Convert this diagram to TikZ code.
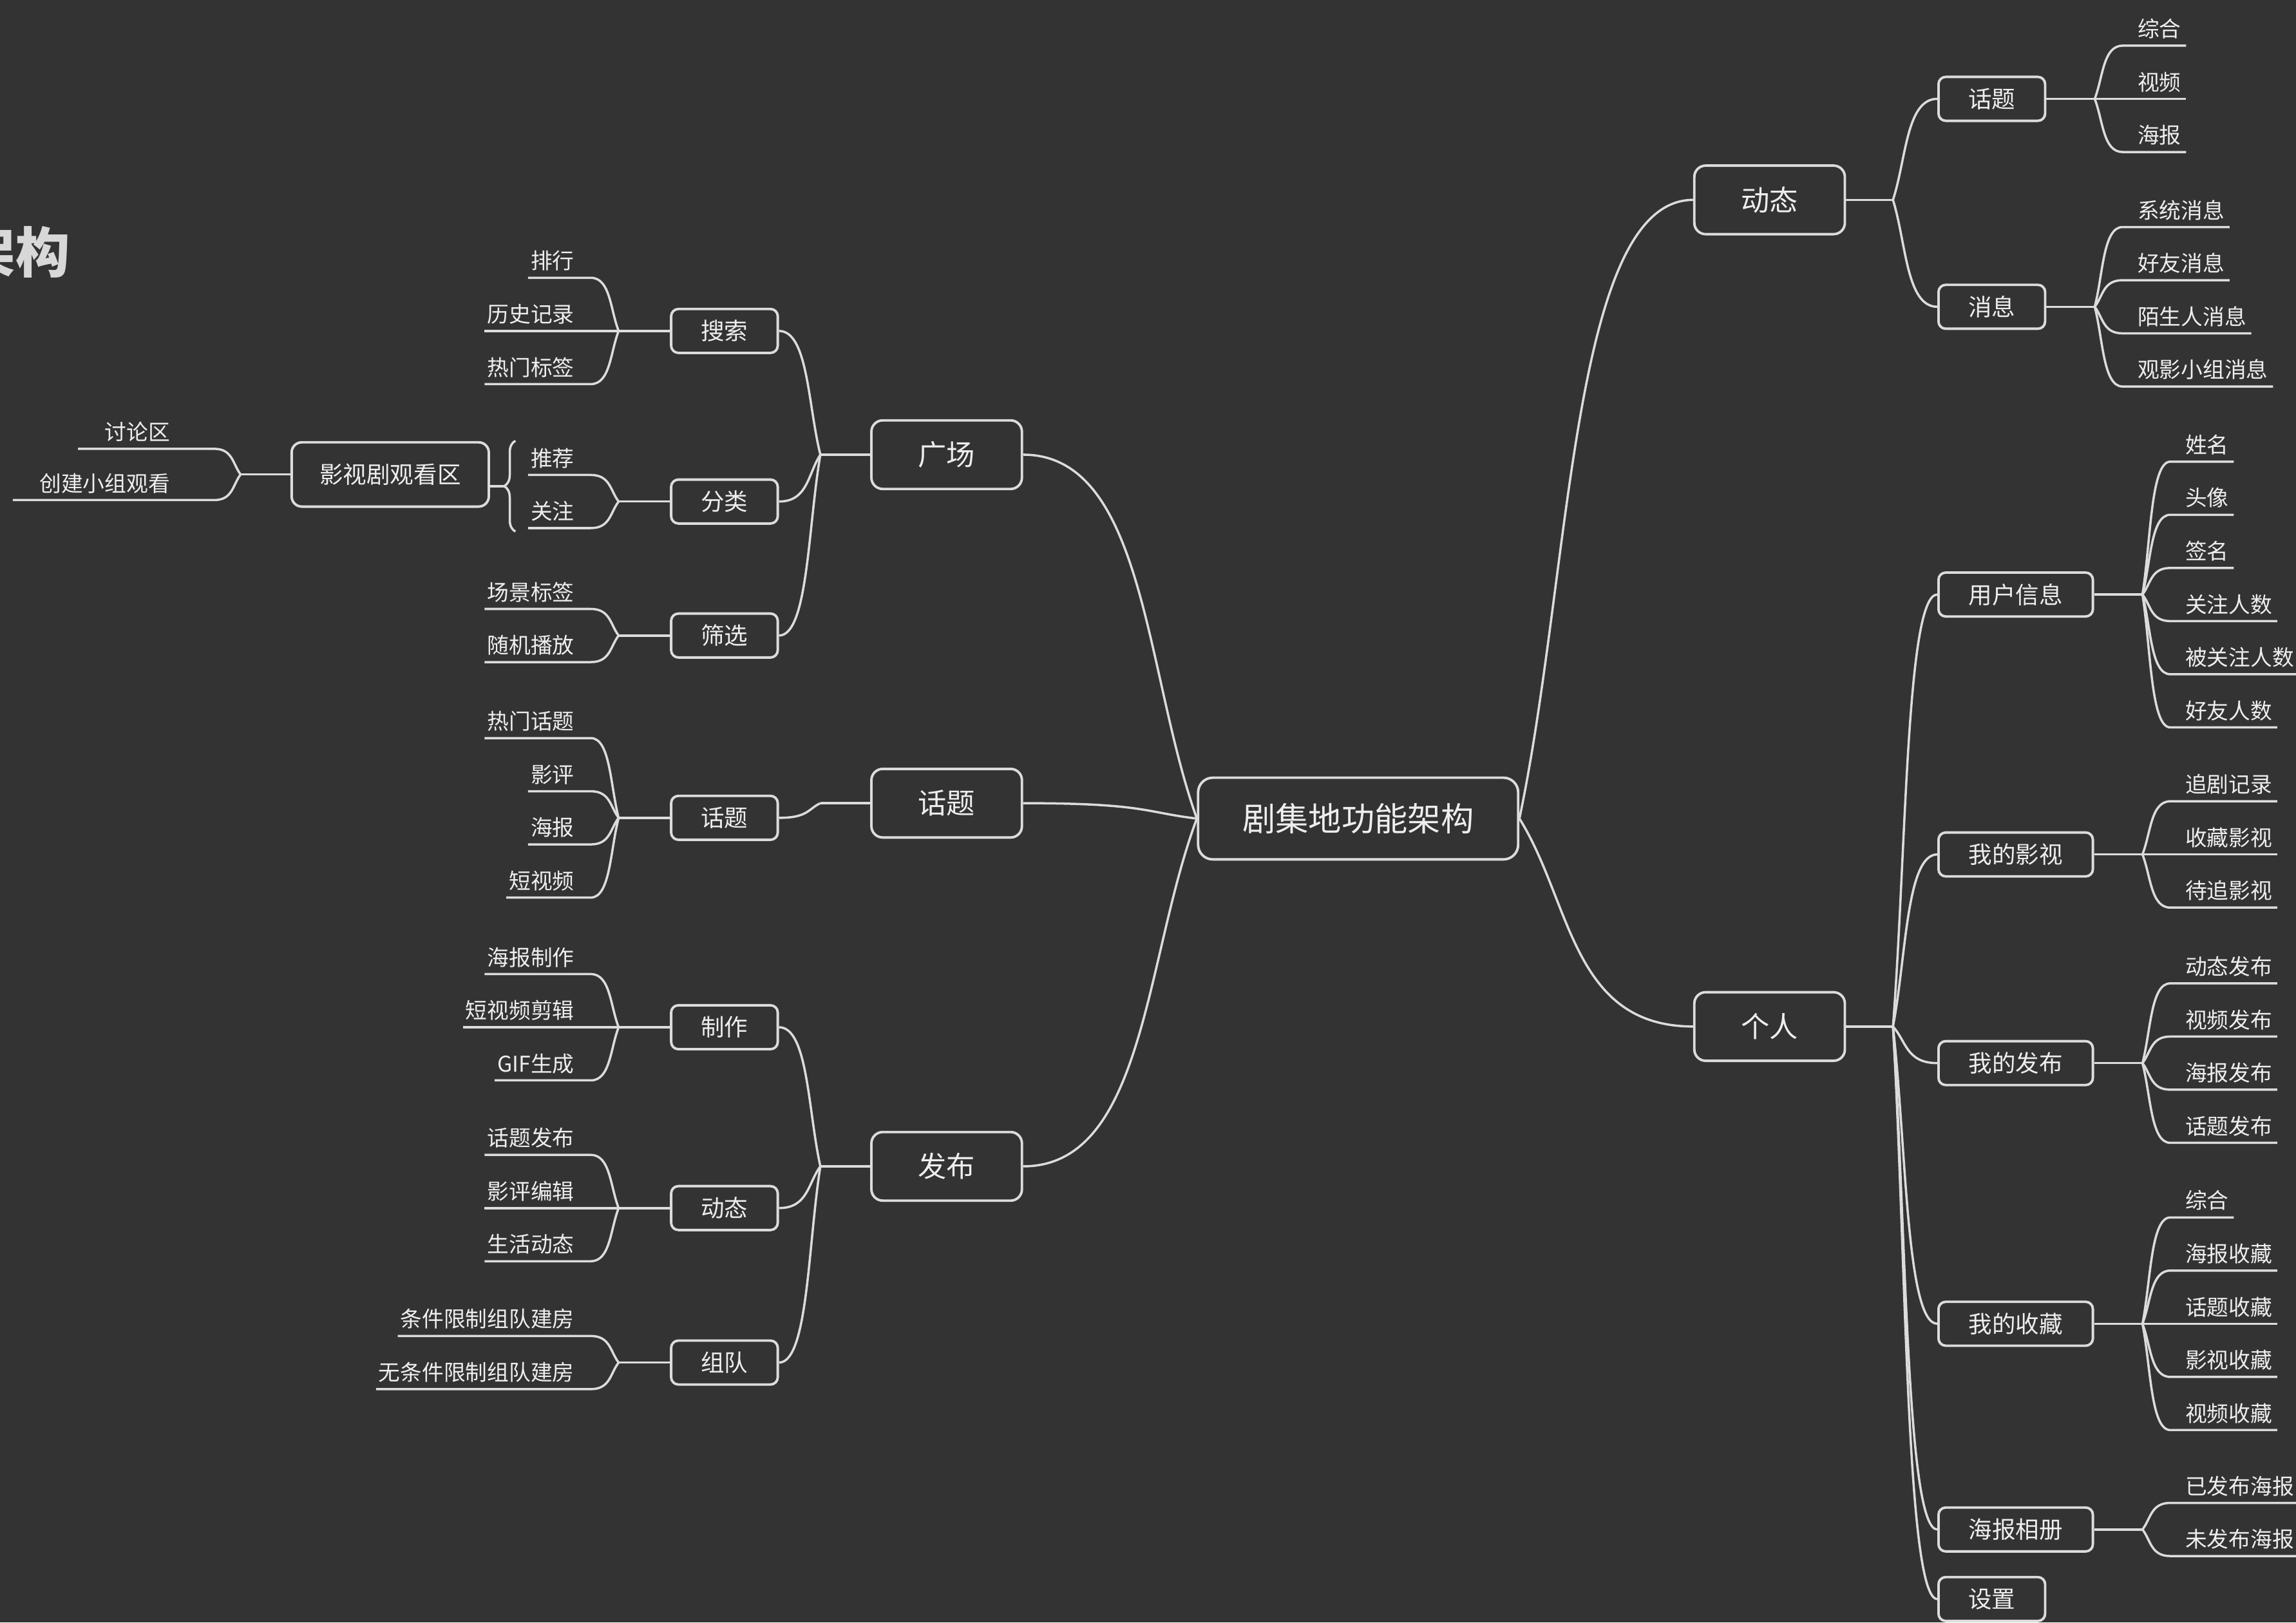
\documentclass[tikz,border=0pt]{standalone}
\usepackage{fontspec}
\setmainfont{Noto Sans CJK SC}
\usetikzlibrary{calc, decorations.pathreplacing}
\definecolor{bgdark}{HTML}{333333}
\definecolor{linegray}{HTML}{DCDCDC}
\definecolor{textwhite}{HTML}{EEEEEE}
\definecolor{titlegray}{HTML}{D8D8D8}
\tikzset{
  box/.style={draw=linegray, fill=bgdark, text=textwhite, line width=1.1pt, inner sep=0pt},
  root/.style={box, rounded corners=6.5pt, minimum width=141.4pt, minimum height=36.1pt, font=\fontsize{14.6}{17}\selectfont},
  main/.style={box, rounded corners=5pt, minimum width=66.5pt, minimum height=30.3pt, font=\fontsize{12.6}{15}\selectfont},
  sub/.style={box, rounded corners=3.2pt, minimum width=47.1pt, minimum height=19.4pt, font=\fontsize{10.4}{12}\selectfont},
  wide/.style={sub, minimum width=68.2pt},
  leaf/.style={inner xsep=0pt, inner ysep=2.4pt, text height=0.86em, text depth=0.12em, text=textwhite, font=\fontsize{9.6}{11}\selectfont},
  link/.style={draw=linegray, line width=1pt},
  branch/.style={to path={let \p1=(\tikztostart), \p2=(\tikztotarget) in
    .. controls ({\x1+0.3*(\x2-\x1)},{\y1+0.4*(\y2-\y1)}) and ({\x1+0.3*(\x2-\x1)},\y2) .. (\tikztotarget)}},
}

\begin{document}
\begin{tikzpicture}[x=0.022736cm, y=-0.022736cm]
  \useasboundingbox (0,0) rectangle (1568,1108);
  \fill[bgdark] (0,0) rectangle (1568,1108);
  % title, cut at the page edge
  \node[inner sep=0pt, anchor=east, text=titlegray, font=\bfseries\fontsize{24}{28}\selectfont] (title) at (48,172) {架构};

  % centre and first level
  \node[root] (root) at (927.5,559) {剧集地功能架构};
  \node[main] (gc) at (646.5,310.5) {广场};
  \node[main] (ht) at (646.5,548.5) {话题};
  \node[main] (fb) at (646.5,796.5) {发布};
  \node[main] (dt) at (1208.5,136.5) {动态};
  \node[main] (gr) at (1208.5,701) {个人};
  \foreach \m in {gc,ht,fb} {
    \coordinate (j\m) at ($(\m.west)+(-34,0)$);
    \draw[link] (root.west) to[branch] (\m.east);
    \draw[link] (\m.west) -- (j\m);
  }
  \foreach \m in {dt,gr} {
    \coordinate (j\m) at ($(\m.east)+(32,0)$);
    \draw[link] (root.east) to[branch] (\m.west);
    \draw[link] (\m.east) -- (j\m);
  }

  % left side: second level and leaves
  \foreach \g/\y/\lab/\n/\up/\items in {
      ss/226/搜索/3/jgc/{排行,历史记录,热门标签},
      fl/342.5/分类/2/jgc/{推荐,关注},
      sx/434/筛选/2/jgc/{场景标签,随机播放},
      hs/558.5/话题/4/jht/{热门话题,影评,海报,短视频},
      zz/701.5/制作/3/jfb/{海报制作,短视频剪辑,GIF生成},
      dd/825/动态/3/jfb/{话题发布,影评编辑,生活动态},
      zd/930.5/组队/2/jfb/{条件限制组队建房,无条件限制组队建房}} {
    \node[sub, anchor=east] (\g) at (532,\y) {\lab};
    \coordinate (j\g) at ($(\g.west)+(-35,0)$);
    \draw[link] (\up) to[branch] (\g.east);
    \draw[link] (\g.west) -- (j\g);
    \foreach \t [count=\i] in \items {
      \coordinate (e\g\i) at ($(j\g)+(-19,{(\i-(\n+1)/2)*36.3})$);
      \node[leaf, anchor=south east] (\g\i) at ($(j\g)+(-30,{(\i-(\n+1)/2)*36.3})$) {\t};
      \draw[link] (j\g) to[branch] (e\g\i) -- ([xshift=-1pt]\g\i.south west);
    }
  }

  % summary of the two entries under 分类
  \node[box, rounded corners=4.5pt, minimum width=87.1pt, minimum height=28.4pt, font=\fontsize{10.4}{12}\selectfont] (ysq) at (266.5,324) {影视剧观看区};
  \coordinate (ysb) at (344,332);
  \draw[link, decorate, decoration={brace, amplitude=5pt}] (352,363) -- (352,301);
  \draw[link] (ysq.east |- ysb) -- (ysb);
  \coordinate (jys) at ($(ysq.west)+(-34,0)$);
  \draw[link] (ysq.west) -- (jys);
  \foreach \t [count=\i] in {讨论区,创建小组观看} {
    \coordinate (eys\i) at ($(jys)+(-18,{(\i-1.5)*35})$);
    \node[leaf, anchor=south east] (ys\i) at ($(jys)+(-48,{(\i-1.5)*35})$) {\t};
    \draw[link] (jys) to[branch] (eys\i) -- ([xshift=-11.6pt]ys\i.south west);
  }

  % right side: second level and leaves
  \foreach \g/\y/\lab/\shp/\n/\up/\items in {
      rt/67.5/话题/sub/3/jdt/{综合,视频,海报},
      xx/209.5/消息/sub/4/jdt/{系统消息,好友消息,陌生人消息,观影小组消息},
      yh/406/用户信息/wide/6/jgr/{姓名,头像,签名,关注人数,被关注人数,好友人数},
      ys/583.5/我的影视/wide/3/jgr/{追剧记录,收藏影视,待追影视},
      wf/726/我的发布/wide/4/jgr/{动态发布,视频发布,海报发布,话题发布},
      sc/904/我的收藏/wide/5/jgr/{综合,海报收藏,话题收藏,影视收藏,视频收藏},
      xc/1044.5/海报相册/wide/2/jgr/{已发布海报,未发布海报}} {
    \node[\shp, anchor=west] (\g) at (1323,\y) {\lab};
    \coordinate (j\g) at ($(\g.east)+(33,0)$);
    \draw[link] (\up) to[branch] (\g.west);
    \draw[link] (\g.east) -- (j\g);
    \foreach \t [count=\i] in \items {
      \coordinate (e\g\i) at ($(j\g)+(19,{(\i-(\n+1)/2)*36.3})$);
      \node[leaf, anchor=south west] (\g\i) at ($(j\g)+(29,{(\i-(\n+1)/2)*36.3})$) {\t};
      \draw[link] (j\g) to[branch] (e\g\i) -- ([xshift=2pt]\g\i.south east);
    }
  }
  \node[sub, anchor=west] (sz) at (1323,1092) {设置};
  \draw[link] (jgr) to[branch] (sz.west);
\end{tikzpicture}
\end{document}
